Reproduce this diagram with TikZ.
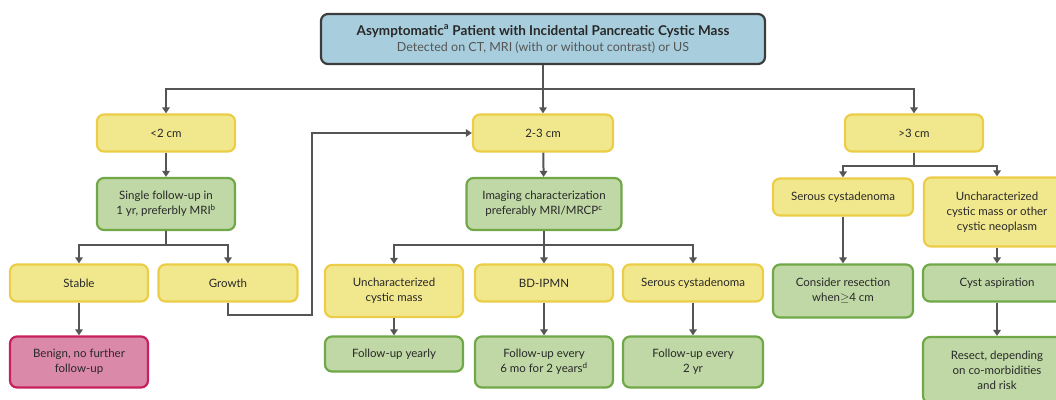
\documentclass[tikz,border=0pt]{standalone}
\usepackage{fontspec}
\setmainfont{Lato}
\usetikzlibrary{arrows.meta}
\definecolor{headfill}{RGB}{168,206,222}
\definecolor{headedge}{RGB}{60,60,60}
\definecolor{sizefill}{RGB}{241,232,142}
\definecolor{sizeedge}{RGB}{236,205,72}
\definecolor{actfill}{RGB}{192,216,166}
\definecolor{actedge}{RGB}{112,168,72}
\definecolor{stopfill}{RGB}{218,137,168}
\definecolor{stopedge}{RGB}{200,32,92}
\definecolor{wiregray}{RGB}{85,85,85}
\definecolor{inkgray}{RGB}{40,40,40}
\tikzset{
  wire/.style={draw=wiregray,line width=2pt},
  flow/.style={wire,-{Triangle[length=6pt,width=7.5pt]}},
  card/.style={line width=2.2pt,rounded corners=7pt,inner sep=2pt,align=center,
               text=inkgray,font=\fontsize{11.5}{15}\selectfont},
  header/.style={card,draw=headedge,fill=headfill,minimum width=444pt,minimum height=50pt,
                 font=\fontsize{12.5}{16}\selectfont},
  sizing/.style={card,draw=sizeedge,fill=sizefill,minimum width=138pt,minimum height=37pt},
  action/.style={card,draw=actedge,fill=actfill,minimum width=138pt,minimum height=37pt},
  stopbox/.style={card,draw=stopedge,fill=stopfill,minimum width=138pt,minimum height=51pt},
}

\begin{document}
\begin{tikzpicture}[x=1pt,y=-1pt]
  \path[use as bounding box] (0,0) rectangle (1056,399);

  % top
  \node[header] (head) at (543,39)
    {{\fontsize{13.5}{16}\selectfont\bfseries Asymptomatic\textsuperscript{a} Patient with Incidental Pancreatic Cystic Mass}\\
     {\color{wiregray}Detected on CT, MRI (with or without contrast) or US}};

  % size classes
  \node[sizing] (small) at (166,133) {<2 cm};
  \node[sizing,minimum width=140pt] (medium) at (543,133) {2-3 cm};
  \node[sizing] (large) at (914,133) {>3 cm};

  % <2 cm branch
  \node[action,minimum height=52pt] (single) at (166,204) {Single follow-up in\\1 yr, preferbly MRI\textsuperscript{b}};
  \node[sizing] (stable) at (79,283) {Stable};
  \node[sizing,minimum width=139pt] (growth) at (228,283) {Growth};
  \node[stopbox] (benign) at (79,362) {Benign, no further\\follow-up};

  % 2-3 cm branch
  \node[action,minimum width=155pt,minimum height=52pt] (imaging) at (544,204)
    {Imaging characterization\\preferably MRI/MRCP\textsuperscript{c}};
  \node[sizing,minimum height=52pt] (unchar) at (394,291) {Uncharacterized\\cystic mass};
  \node[sizing] (ipmn) at (544,283) {BD-IPMN};
  \node[sizing,minimum width=140pt] (serousmid) at (693,283) {Serous cystadenoma};
  \node[action,minimum height=35pt] (yearly) at (394,354) {Follow-up yearly};
  \node[action,minimum height=51pt] (sixmo) at (544,362) {Follow-up every\\6 mo for 2 years\textsuperscript{d}};
  \node[action,minimum width=140pt,minimum height=51pt] (twoyr) at (693,362) {Follow-up every\\2 yr};

  % >3 cm branch
  \node[sizing,minimum width=140pt] (serousbig) at (843,197) {Serous cystadenoma};
  \node[sizing,minimum width=146pt,minimum height=69pt] (other) at (997,212)
    {Uncharacterized\\cystic mass or other\\cystic neoplasm};
  \node[action,minimum width=140pt,minimum height=53pt] (consider) at (843,291) {Consider resection\\when$\geq$4 cm};
  \node[action,minimum width=148pt] (aspirate) at (997,283) {Cyst aspiration};
  \node[action,minimum width=148pt,minimum height=66pt] (resect) at (997,370)
    {Resect, depending\\on co-morbidities\\and risk};

  % connectors
  \draw[flow] (head.south) -- ++(0,24) -| (small.north);
  \draw[flow] (head.south) -- (medium.north);
  \draw[flow] (head.south) -- ++(0,24) -| (large.north);

  \draw[flow] (small) -- (single);
  \draw[flow] (single.south) -- ++(0,14) -| (stable.north);
  \draw[flow] (single.south) -- ++(0,14) -| (growth.north);
  \draw[flow] (stable) -- (benign);
  \coordinate (detour) at (312,315);
  \draw[flow] (growth.south) |- (detour) |- (medium.west);

  \draw[flow] (medium) -- (imaging);
  \draw[flow] (imaging.south) -- ++(0,14) -| (unchar.north);
  \draw[flow] (imaging.south) -- (ipmn.north);
  \draw[flow] (imaging.south) -- ++(0,14) -| (serousmid.north);
  \draw[flow] (unchar) -- (yearly);
  \draw[flow] (ipmn) -- (sixmo);
  \draw[flow] (serousmid) -- (twoyr);

  \draw[flow] (large.south) -- ++(0,13) -| (serousbig.north);
  \draw[flow] (large.south) -- ++(0,13) -| (other.north);
  \draw[flow] (serousbig) -- (consider);
  \draw[flow] (other) -- (aspirate);
  \draw[flow] (aspirate) -- (resect);
\end{tikzpicture}
\end{document}
